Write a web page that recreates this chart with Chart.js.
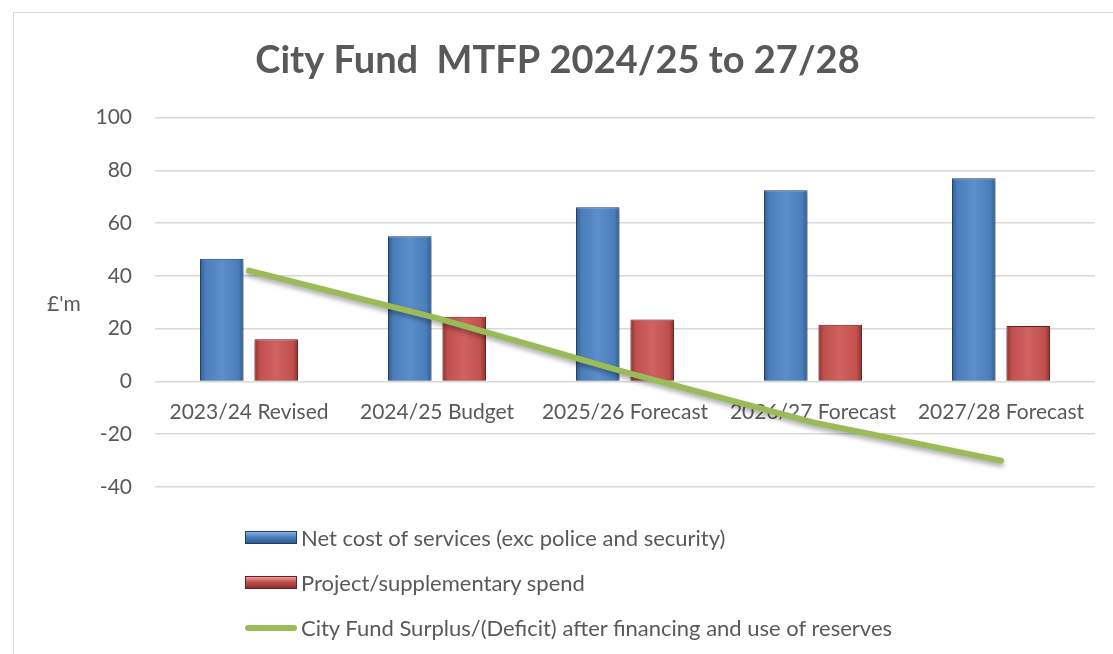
<!DOCTYPE html>
<html>
<head>
<meta charset="utf-8">
<script src="https://cdn.jsdelivr.net/npm/chart.js@4.4.1/dist/chart.umd.min.js"></script>
<style>
  html, body { margin: 0; padding: 0; background: #fff; }
  #wrap { position: relative; width: 1113px; height: 654px; overflow: hidden; }
  #frame { position: absolute; left: 13px; top: 12px; width: 1200px; height: 700px;
           border-left: 1px solid #d9d9d9; border-top: 1px solid #d9d9d9; }
  #unit { position: absolute; left: 47px; top: 290px; font: 21px Lato, sans-serif; color: #595959; }
  #legend { position: absolute; left: 245px; top: 515px; font: 22px Lato, sans-serif; color: #595959; }
  .item { display: flex; align-items: center; height: 45px; }
  .sw { width: 52px; margin-right: 4px; }
</style>
</head>
<body>
<div id="wrap">
  <div id="frame"></div>
  <canvas id="myChart" width="1113" height="654"></canvas>
  <div id="unit">£'m</div>
  <div id="legend"></div>
</div>
<script>
const categories = ["2023/24 Revised", "2024/25 Budget", "2025/26 Forecast", "2026/27 Forecast", "2027/28 Forecast"];
const netCost = [46.5, 55, 66, 72.5, 77];
const projectSpend = [16, 24.5, 23.5, 21.5, 21];
const surplus = [42, 24, 3.5, -15.5, -30];
const yTicks = [-40, -20, 0, 20, 40, 60, 80, 100];

// horizontal bevel look for the bars
function bevel(dark, mid, light) {
  return function (c) {
    const el = c.element;
    if (!el || el.x == null || !el.width) return mid;
    const g = c.chart.ctx.createLinearGradient(el.x - el.width / 2, 0, el.x + el.width / 2, 0);
    g.addColorStop(0, dark);
    g.addColorStop(0.12, mid);
    g.addColorStop(0.5, light);
    g.addColorStop(0.88, mid);
    g.addColorStop(1, dark);
    return g;
  };
}

const shadow = {
  id: "shadow",
  beforeDatasetDraw(chart) {
    const ctx = chart.ctx;
    ctx.save();
    ctx.shadowColor = "rgba(0,0,0,0.35)";
    ctx.shadowBlur = 5;
    ctx.shadowOffsetY = 3;
  },
  afterDatasetDraw(chart) {
    chart.ctx.restore();
  },
};

const ctx = document.getElementById("myChart");

const chart = new Chart(ctx, {
  type: "bar",
  data: {
    labels: categories,
    datasets: [
      {
        label: "Net cost of services (exc police and security)",
        data: netCost,
        backgroundColor: bevel("#2d5a8e", "#4a7ebb", "#5b8fcc"),
        borderColor: "#1f3d63",
        borderWidth: 1,
        order: 1,
      },
      {
        label: "Project/supplementary spend",
        data: projectSpend,
        backgroundColor: bevel("#8e2f2c", "#c0504d", "#d0625f"),
        borderColor: "#6b1e1c",
        borderWidth: 1,
        order: 1,
      },
      {
        type: "line",
        label: "City Fund Surplus/(Deficit) after financing and use of reserves",
        data: surplus,
        borderColor: "#9bbb59",
        backgroundColor: "#9bbb59",
        borderWidth: 6,
        pointRadius: 0,
        borderCapStyle: "round",
        order: 0,
      },
    ],
  },
  options: {
    responsive: false,
    animation: false,
    categoryPercentage: 0.58,
    barPercentage: 0.8,
    layout: { padding: { left: 20, right: 18, top: 0, bottom: 167 } },
    plugins: {
      legend: { display: false },
      tooltip: { enabled: false },
      title: {
        display: true,
        text: "City Fund  MTFP 2024/25 to 27/28",
        color: "#595959",
        font: { family: "Lato", size: 38, weight: "bold" },
        padding: { top: 38, bottom: 34 },
      },
    },
    scales: {
      x: {
        position: { y: 0 },
        grid: { display: false },
        border: { display: false },
        ticks: { color: "#595959", font: { family: "Lato", size: 21 }, padding: 10, maxRotation: 0 },
      },
      y: {
        min: -40,
        max: 100,
        afterBuildTicks(s) { s.ticks = yTicks.map(v => ({ value: v })); },
        afterFit(s) { s.width = 135; },
        grid: { color: "#d9d9d9", lineWidth: 1.5, drawTicks: false },
        border: { display: false },
        ticks: { color: "#595959", font: { family: "Lato", size: 21 }, padding: 23 },
      },
    },
  },
  plugins: [shadow],
});
chart.update();

// vertical legend below the plot
const legend = document.getElementById("legend");
chart.data.datasets.forEach((ds, i) => {
  const item = document.createElement("div");
  item.className = "item";
  const sw = document.createElement("span");
  sw.className = "sw";
  if (ds.type === "line") {
    sw.style.height = "6px";
    sw.style.borderRadius = "3px";
    sw.style.background = ds.borderColor;
  } else {
    sw.style.height = "13px";
    sw.style.boxSizing = "border-box";
    sw.style.border = "1px solid " + ds.borderColor;
    sw.style.background = i === 0
      ? "linear-gradient(#8db4e2, #4a7ebb 45%, #2d5a8e)"
      : "linear-gradient(#f0a09e, #c0504d 45%, #8e2f2c)";
  }
  const txt = document.createElement("span");
  txt.textContent = ds.label;
  item.appendChild(sw);
  item.appendChild(txt);
  legend.appendChild(item);
});
</script>
</body>
</html>
